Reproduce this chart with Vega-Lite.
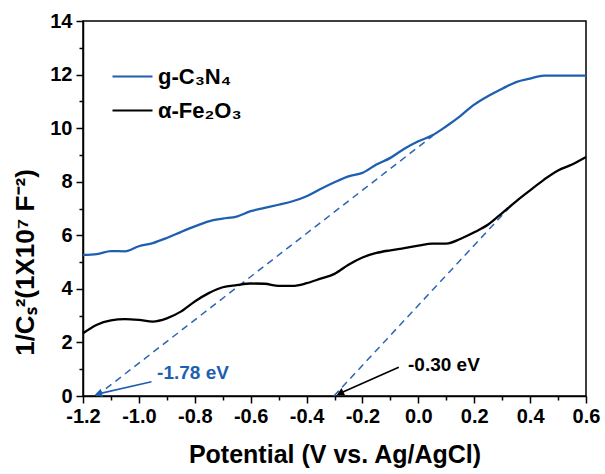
{
  "$schema": "https://vega.github.io/schema/vega-lite/v6.json",
  "width": 503,
  "height": 375,
  "autosize": "none",
  "padding": {"left": 83, "top": 21, "right": 19, "bottom": 78},
  "background": "white",
  "config": {
    "font": "Liberation Sans",
    "view": {"stroke": "black", "strokeWidth": 1.5},
    "axis": {"grid": false, "domainColor": "black", "domainWidth": 1.5, "tickColor": "black", "tickWidth": 1.5, "labelColor": "black", "titleColor": "black", "labelFont": "Liberation Sans", "titleFont": "Liberation Sans", "labelFontWeight": "bold", "titleFontWeight": "bold", "labelFlush": false, "labelOverlap": false}
  },
  "datasets": {
    "curves": [
      {"series": "g-C₃N₄", "v": -1.2, "c": 5.27}, {"series": "g-C₃N₄", "v": -1.15, "c": 5.3}, {"series": "g-C₃N₄", "v": -1.1, "c": 5.41}, {"series": "g-C₃N₄", "v": -1.05, "c": 5.4}, {"series": "g-C₃N₄", "v": -1.0, "c": 5.59}, {"series": "g-C₃N₄", "v": -0.95, "c": 5.71}, {"series": "g-C₃N₄", "v": -0.9, "c": 5.9}, {"series": "g-C₃N₄", "v": -0.85, "c": 6.12}, {"series": "g-C₃N₄", "v": -0.8, "c": 6.33}, {"series": "g-C₃N₄", "v": -0.75, "c": 6.52}, {"series": "g-C₃N₄", "v": -0.7, "c": 6.62}, {"series": "g-C₃N₄", "v": -0.65, "c": 6.7}, {"series": "g-C₃N₄", "v": -0.6, "c": 6.9}, {"series": "g-C₃N₄", "v": -0.55, "c": 7.02}, {"series": "g-C₃N₄", "v": -0.5, "c": 7.14}, {"series": "g-C₃N₄", "v": -0.45, "c": 7.27}, {"series": "g-C₃N₄", "v": -0.4, "c": 7.46}, {"series": "g-C₃N₄", "v": -0.35, "c": 7.73}, {"series": "g-C₃N₄", "v": -0.3, "c": 7.98}, {"series": "g-C₃N₄", "v": -0.25, "c": 8.2}, {"series": "g-C₃N₄", "v": -0.2, "c": 8.33}, {"series": "g-C₃N₄", "v": -0.15, "c": 8.64}, {"series": "g-C₃N₄", "v": -0.1, "c": 8.89}, {"series": "g-C₃N₄", "v": -0.05, "c": 9.23}, {"series": "g-C₃N₄", "v": 0.0, "c": 9.51}, {"series": "g-C₃N₄", "v": 0.05, "c": 9.73}, {"series": "g-C₃N₄", "v": 0.1, "c": 10.07}, {"series": "g-C₃N₄", "v": 0.15, "c": 10.45}, {"series": "g-C₃N₄", "v": 0.2, "c": 10.88}, {"series": "g-C₃N₄", "v": 0.25, "c": 11.2}, {"series": "g-C₃N₄", "v": 0.3, "c": 11.47}, {"series": "g-C₃N₄", "v": 0.35, "c": 11.72}, {"series": "g-C₃N₄", "v": 0.4, "c": 11.85}, {"series": "g-C₃N₄", "v": 0.45, "c": 11.96}, {"series": "g-C₃N₄", "v": 0.5, "c": 11.96}, {"series": "g-C₃N₄", "v": 0.6, "c": 11.96},
      {"series": "α-Fe₂O₃", "v": -1.2, "c": 2.34}, {"series": "α-Fe₂O₃", "v": -1.15, "c": 2.66}, {"series": "α-Fe₂O₃", "v": -1.1, "c": 2.82}, {"series": "α-Fe₂O₃", "v": -1.05, "c": 2.87}, {"series": "α-Fe₂O₃", "v": -1.0, "c": 2.84}, {"series": "α-Fe₂O₃", "v": -0.95, "c": 2.78}, {"series": "α-Fe₂O₃", "v": -0.9, "c": 2.9}, {"series": "α-Fe₂O₃", "v": -0.85, "c": 3.15}, {"series": "α-Fe₂O₃", "v": -0.8, "c": 3.53}, {"series": "α-Fe₂O₃", "v": -0.75, "c": 3.84}, {"series": "α-Fe₂O₃", "v": -0.7, "c": 4.06}, {"series": "α-Fe₂O₃", "v": -0.65, "c": 4.14}, {"series": "α-Fe₂O₃", "v": -0.6, "c": 4.2}, {"series": "α-Fe₂O₃", "v": -0.55, "c": 4.19}, {"series": "α-Fe₂O₃", "v": -0.5, "c": 4.11}, {"series": "α-Fe₂O₃", "v": -0.45, "c": 4.11}, {"series": "α-Fe₂O₃", "v": -0.4, "c": 4.21}, {"series": "α-Fe₂O₃", "v": -0.35, "c": 4.38}, {"series": "α-Fe₂O₃", "v": -0.3, "c": 4.56}, {"series": "α-Fe₂O₃", "v": -0.25, "c": 4.9}, {"series": "α-Fe₂O₃", "v": -0.2, "c": 5.17}, {"series": "α-Fe₂O₃", "v": -0.15, "c": 5.34}, {"series": "α-Fe₂O₃", "v": -0.1, "c": 5.44}, {"series": "α-Fe₂O₃", "v": -0.05, "c": 5.52}, {"series": "α-Fe₂O₃", "v": 0.0, "c": 5.61}, {"series": "α-Fe₂O₃", "v": 0.05, "c": 5.69}, {"series": "α-Fe₂O₃", "v": 0.1, "c": 5.69}, {"series": "α-Fe₂O₃", "v": 0.15, "c": 5.86}, {"series": "α-Fe₂O₃", "v": 0.2, "c": 6.11}, {"series": "α-Fe₂O₃", "v": 0.25, "c": 6.4}, {"series": "α-Fe₂O₃", "v": 0.3, "c": 6.83}, {"series": "α-Fe₂O₃", "v": 0.35, "c": 7.27}, {"series": "α-Fe₂O₃", "v": 0.4, "c": 7.68}, {"series": "α-Fe₂O₃", "v": 0.45, "c": 8.08}, {"series": "α-Fe₂O₃", "v": 0.5, "c": 8.42}, {"series": "α-Fe₂O₃", "v": 0.55, "c": 8.64}, {"series": "α-Fe₂O₃", "v": 0.6, "c": 8.92}
    ],
    "fits": [
      {"fit": "g", "v": -1.152, "c": 0}, {"fit": "g", "v": 0.05, "c": 9.7},
      {"fit": "f", "v": -0.302, "c": 0}, {"fit": "f", "v": 0.334, "c": 7.13}
    ],
    "arrows": [
      {"name": "g", "v": -0.955, "c": 0.53, "v2": -1.145, "c2": 0.08, "angle": 254, "label": "-1.78 eV", "lv": -0.935, "lc": 0.86},
      {"name": "f", "v": -0.07, "c": 1.07, "v2": -0.28, "c2": 0.1, "angle": 244, "label": "-0.30 eV", "lv": -0.037, "lc": 1.16}
    ]
  },
  "resolve": {"axis": {"x": "independent", "y": "independent"}},
  "layer": [
    {
      "data": {"name": "fits"},
      "mark": {"type": "line", "color": "#2a66b3", "strokeWidth": 1.5, "strokeDash": [7, 5]},
      "encoding": {
        "x": {"field": "v", "type": "quantitative", "scale": {"domain": [-1.2, 0.6], "nice": false, "zero": false},
              "axis": {"orient": "bottom", "values": [-1.1, -0.9, -0.7, -0.5, -0.3, -0.1, 0.1, 0.3, 0.5], "tickSize": 4, "labels": false, "domain": false, "title": null}},
        "y": {"field": "c", "type": "quantitative", "scale": {"domain": [0, 14], "nice": false},
              "axis": {"orient": "left", "values": [1, 3, 5, 7, 9, 11, 13], "tickSize": 4, "labels": false, "domain": false, "title": null}},
        "detail": {"field": "fit"}
      }
    },
    {
      "data": {"name": "curves"},
      "mark": {"type": "line", "strokeWidth": 2.3, "interpolate": "monotone"},
      "encoding": {
        "x": {"field": "v", "type": "quantitative",
              "axis": {"orient": "bottom", "values": [-1.2, -1.0, -0.8, -0.6, -0.4, -0.2, 0.0, 0.2, 0.4, 0.6], "format": ".1f", "labelExpr": "replace(datum.label, '−', '-')", "tickSize": 7, "labelFontSize": 20, "labelPadding": 3, "title": "Potential (V vs. Ag/AgCl)", "titleFontSize": 25, "titlePadding": 16}},
        "y": {"field": "c", "type": "quantitative",
              "axis": {"orient": "left", "values": [0, 2, 4, 6, 8, 10, 12, 14], "tickSize": 7, "labelFontSize": 20, "labelPadding": 4, "title": "1/Cₛ²(1X10⁷ F⁻²)", "titleFontSize": 26, "titleY": 241, "titleX": -45, "titleAlign": "center", "titleBaseline": "bottom", "titleAngle": -90}},
        "color": {"field": "series", "type": "nominal", "sort": null,
                  "scale": {"domain": ["g-C₃N₄", "α-Fe₂O₃"], "range": ["#1f5fb0", "#000000"]},
                  "legend": {"title": null, "orient": "none", "legendX": 28, "legendY": 34, "symbolType": "stroke", "symbolSize": 1600, "symbolStrokeWidth": 2.2, "labelFontSize": 22, "labelFontWeight": "bold", "labelFont": "Liberation Sans", "labelColor": "black", "rowPadding": 1, "labelOffset": 4, "padding": 0}}
      }
    },
    {
      "data": {"name": "arrows"},
      "mark": {"type": "rule", "strokeWidth": 1.6},
      "encoding": {
        "x": {"field": "v", "type": "quantitative", "axis": null},
        "y": {"field": "c", "type": "quantitative", "axis": null},
        "x2": {"field": "v2"},
        "y2": {"field": "c2"},
        "stroke": {"field": "name", "type": "nominal", "scale": {"domain": ["g", "f"], "range": ["#1f5fb0", "#000000"]}, "legend": null}
      }
    },
    {
      "data": {"name": "arrows"},
      "mark": {"type": "point", "shape": "triangle-up", "filled": true, "size": 70, "opacity": 1},
      "encoding": {
        "x": {"field": "v2", "type": "quantitative", "axis": null},
        "y": {"field": "c2", "type": "quantitative", "axis": null},
        "angle": {"field": "angle", "type": "quantitative", "scale": null},
        "fill": {"field": "name", "type": "nominal", "scale": {"domain": ["g", "f"], "range": ["#1f5fb0", "#000000"]}, "legend": null}
      }
    },
    {
      "data": {"name": "arrows"},
      "mark": {"type": "text", "align": "left", "baseline": "middle", "fontSize": 19, "fontWeight": "bold", "font": "Liberation Sans"},
      "encoding": {
        "x": {"field": "lv", "type": "quantitative", "axis": null},
        "y": {"field": "lc", "type": "quantitative", "axis": null},
        "text": {"field": "label"},
        "fill": {"field": "name", "type": "nominal", "scale": {"domain": ["g", "f"], "range": ["#1f5fb0", "#000000"]}, "legend": null}
      }
    }
  ]
}
